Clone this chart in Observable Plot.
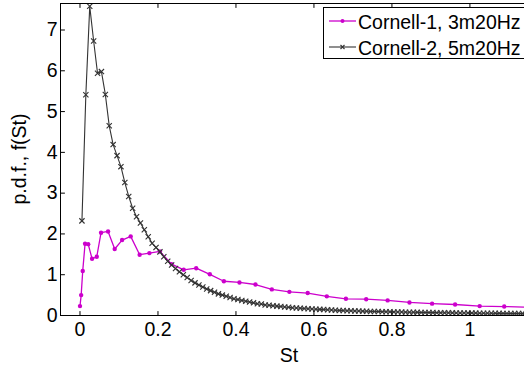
<!DOCTYPE html>
<html><head><meta charset="utf-8">
<script src="https://cdn.jsdelivr.net/npm/d3@7"></script>
<script src="https://cdn.jsdelivr.net/npm/@observablehq/plot@0.6"></script>
<style>
html,body{margin:0;padding:0;background:#fff;overflow:hidden;}
#chart svg{display:block;}
</style>
</head><body><div id="chart"></div>
<script>
// Series 1: Cornell-1, 3m20Hz
const c1St = [0.000,0.003,0.007,0.013,0.021,0.031,0.043,0.054,0.072,0.089,0.108,0.130,0.153,0.178,0.205,0.235,0.266,0.298,0.333,0.369,0.409,0.450,0.492,0.537,0.584,0.633,0.682,0.734,0.789,0.845,0.903,0.962,1.025,1.088,1.155];
const c1Pdf = [0.23,0.50,1.09,1.76,1.75,1.39,1.44,2.03,2.06,1.63,1.85,1.94,1.49,1.53,1.57,1.26,1.12,1.16,1.01,0.84,0.81,0.76,0.64,0.58,0.55,0.47,0.41,0.40,0.37,0.32,0.29,0.27,0.23,0.22,0.20];
// Series 2: Cornell-2, 5m20Hz
const c2St = [0.005,0.015,0.025,0.035,0.045,0.055,0.065,0.075,0.085,0.095,
0.105,0.115,0.125,0.135,0.145,0.155,0.165,0.175,0.185,0.195,
0.205,0.215,0.225,0.235,0.245,0.255,0.265,0.275,0.285,0.295,
0.305,0.315,0.325,0.335,0.345,0.355,0.365,0.375,0.385,0.395,
0.405,0.415,0.425,0.435,0.445,0.455,0.465,0.475,0.485,0.495,
0.505,0.515,0.525,0.535,0.545,0.555,0.565,0.575,0.585,0.595,
0.605,0.615,0.625,0.635,0.645,0.655,0.665,0.675,0.685,0.695,
0.705,0.715,0.725,0.735,0.745,0.755,0.765,0.775,0.785,0.795,
0.805,0.815,0.825,0.835,0.845,0.855,0.865,0.875,0.885,0.895,
0.905,0.915,0.925,0.935,0.945,0.955,0.965,0.975,0.985,0.995,
1.005,1.015,1.025,1.035,1.045,1.055,1.065,1.075,1.085,1.095,
1.105,1.115,1.125,1.135,1.145];
const c2Pdf = [2.32,5.41,7.58,6.73,5.94,5.98,5.42,4.65,4.19,3.92,
3.65,3.26,2.92,2.63,2.42,2.27,2.10,1.93,1.77,1.67,
1.56,1.44,1.33,1.24,1.15,1.07,1.00,0.93,0.86,0.80,
0.75,0.70,0.65,0.61,0.57,0.53,0.50,0.47,0.44,0.41,
0.39,0.37,0.35,0.33,0.31,0.29,0.28,0.26,0.25,0.24,
0.23,0.22,0.21,0.20,0.19,0.185,0.18,0.17,0.165,0.16,
0.155,0.15,0.145,0.14,0.135,0.13,0.125,0.12,0.118,0.115,
0.112,0.11,0.107,0.104,0.10,0.098,0.096,0.094,0.092,0.09,
0.088,0.086,0.084,0.082,0.08,0.078,0.077,0.075,0.074,0.072,
0.071,0.07,0.068,0.067,0.066,0.065,0.063,0.062,0.061,0.06,
0.059,0.058,0.057,0.056,0.055,0.054,0.053,0.052,0.051,0.05,
0.05,0.049,0.048,0.047,0.046];
const xTicks = [0, 0.2, 0.4, 0.6, 0.8, 1];
const xTickLabels = ["0", "0.2", "0.4", "0.6", "0.8", "1"];
const yTicks = [0, 1, 2, 3, 4, 5, 6, 7];
const yTickLabels = ["0", "1", "2", "3", "4", "5", "6", "7"];
const seriesNames = ["Cornell-1, 3m20Hz", "Cornell-2, 5m20Hz"];
const xLabel = "St";
const yLabel = "p.d.f., f(St)";

const magenta = "#cc00cc";
const gray = "#333333";
const font = "'Liberation Sans', Arial, Helvetica, sans-serif";
const fs = 19.5;

const d1 = c1St.map((x, i) => ({x, y: c1Pdf[i]}));
const d2 = c2St.map((x, i) => ({x, y: c2Pdf[i]}));
const xt = xTicks.map((v, i) => ({v, t: xTickLabels[i]}));
const yt = yTicks.map((v, i) => ({v, t: yTickLabels[i]}));

const tickShape = {draw(ctx, l) { ctx.moveTo(0, 0); ctx.lineTo(0, -l); }};

const chart = Plot.plot({
  width: 524, height: 369,
  marginLeft: 60, marginRight: 0, marginTop: 3, marginBottom: 54,
  style: {fontFamily: font, fontSize: fs + "px", background: "#fff", color: "#000"},
  x: {domain: [-0.05, 1.14], label: null, axis: null},
  y: {domain: [0, 7.65], label: null, axis: null},
  marks: [
    Plot.line(d1, {x: "x", y: "y", stroke: magenta, strokeWidth: 1.3, clip: true}),
    Plot.dot(d1, {x: "x", y: "y", fill: magenta, r: 2.2, clip: true}),
    Plot.line(d2, {x: "x", y: "y", stroke: gray, strokeWidth: 1.1, clip: true}),
    Plot.dot(d2, {x: "x", y: "y", symbol: "times", stroke: gray, strokeWidth: 1.1, r: 2.5, clip: true}),
    Plot.frame({anchor: "top", stroke: "#000"}),
    Plot.frame({anchor: "left", stroke: "#000"}),
    Plot.frame({anchor: "bottom", stroke: "#000"}),
    // inward tick marks
    Plot.vector(xt, {x: "v", frameAnchor: "bottom", length: 4, rotate: 0, anchor: "start", shape: tickShape, stroke: "#000", strokeWidth: 1}),
    Plot.vector(xt, {x: "v", frameAnchor: "top", length: 4, rotate: 180, anchor: "start", shape: tickShape, stroke: "#000", strokeWidth: 1}),
    Plot.vector(yt, {y: "v", frameAnchor: "left", length: 4, rotate: 90, anchor: "start", shape: tickShape, stroke: "#000", strokeWidth: 1}),
    // tick labels
    Plot.text(xt, {x: "v", text: "t", frameAnchor: "bottom", dy: 14, lineAnchor: "middle", textAnchor: "middle", fill: "#000", fontSize: fs}),
    Plot.text(yt, {y: "v", text: "t", frameAnchor: "left", dx: -3, lineAnchor: "middle", textAnchor: "end", fill: "#000", fontSize: fs})
  ]
});

const svg = d3.select(chart);
svg.append("text")
  .attr("x", 289).attr("y", 362)
  .attr("text-anchor", "middle")
  .attr("font-family", font).attr("font-size", fs).attr("fill", "#000")
  .text(xLabel);
svg.append("text")
  .attr("transform", "translate(26,159) rotate(-90)")
  .attr("text-anchor", "middle")
  .attr("font-family", font).attr("font-size", fs).attr("fill", "#000")
  .text(yLabel);

// Legend (inside the axes, top right, like the original)
const lg = svg.append("g");
lg.append("rect").attr("x", 323.5).attr("y", 7.5).attr("width", 220).attr("height", 51)
  .attr("fill", "#fff").attr("stroke", "#000").attr("stroke-width", 1);
const rows = [{name: seriesNames[0], color: magenta, cy: 21, mark: "dot"},
              {name: seriesNames[1], color: gray, cy: 47, mark: "x"}];
rows.forEach(r => {
  lg.append("line").attr("x1", 329).attr("x2", 356).attr("y1", r.cy).attr("y2", r.cy)
    .attr("stroke", r.color).attr("stroke-width", r.mark === "dot" ? 1.3 : 1.1);
  if (r.mark === "dot") {
    lg.append("circle").attr("cx", 342.5).attr("cy", r.cy).attr("r", 2).attr("fill", r.color);
  } else {
    lg.append("path").attr("d", `M340.5,${r.cy-2}L344.5,${r.cy+2}M340.5,${r.cy+2}L344.5,${r.cy-2}`)
      .attr("stroke", r.color).attr("stroke-width", 1.1);
  }
  lg.append("text").attr("x", 358).attr("y", r.cy + 7.5)
    .attr("text-anchor", "start")
    .attr("font-family", font).attr("font-size", fs).attr("fill", "#000")
    .text(r.name);
});

document.getElementById("chart").appendChild(chart);
</script>
</body></html>
